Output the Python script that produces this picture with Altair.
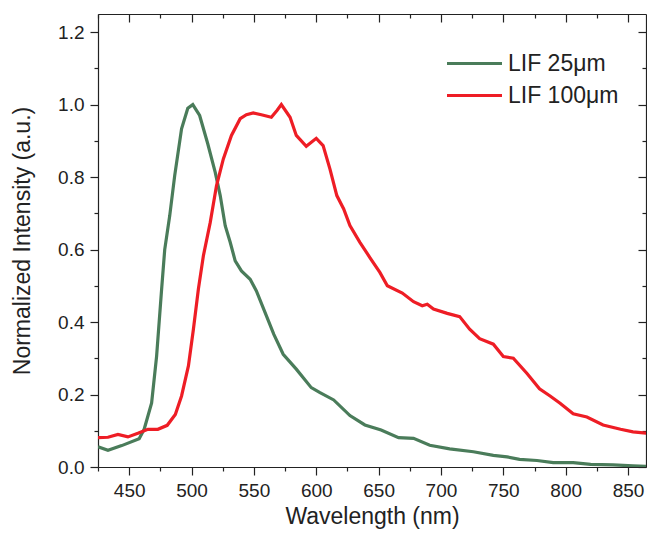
import altair as alt
import pandas as pd

# ---- data ----
green_wl = [425, 433, 444, 458, 462, 468, 472, 476, 478.5, 482.5, 486.5, 492, 497, 501,
            506.5, 513, 519, 523, 527, 531, 535, 540, 547, 552, 559, 566, 573.5, 584, 596,
            603, 614, 627, 639, 652, 666, 678, 691, 707, 726, 742, 753, 763, 777, 790, 806,
            820, 838, 854, 870]
green_val = [0.056, 0.046, 0.059, 0.078, 0.104, 0.177, 0.306, 0.49, 0.60, 0.693, 0.804, 0.933,
             0.99, 1.0, 0.97, 0.892, 0.813, 0.749, 0.666, 0.62, 0.569, 0.541, 0.518, 0.486,
             0.426, 0.366, 0.311, 0.27, 0.219, 0.205, 0.185, 0.142, 0.116, 0.102, 0.081, 0.079,
             0.060, 0.050, 0.042, 0.032, 0.028, 0.021, 0.018, 0.012, 0.012, 0.007, 0.006, 0.003,
             0.001]
red_wl = [425, 433, 441, 449, 457, 465, 473, 480.5, 487, 492, 497.5, 501.5, 505.5, 509.5, 515,
          520, 525.5, 532, 539, 544, 549.5, 556, 564, 568.5, 572, 579, 584, 592, 600, 605.5,
          611, 616.5, 622, 627, 635, 643, 651, 657, 669, 678, 685, 689, 694, 705, 715, 723,
          731, 742, 750, 758, 769, 779, 787.5, 795.5, 806, 817, 830, 844, 854, 865, 871]
red_val = [0.081, 0.082, 0.09, 0.083, 0.093, 0.104, 0.104, 0.115, 0.145, 0.196, 0.279, 0.38,
           0.491, 0.583, 0.675, 0.776, 0.85, 0.915, 0.961, 0.972, 0.977, 0.972, 0.965, 0.984,
           1.0, 0.965, 0.915, 0.885, 0.907, 0.887, 0.822, 0.749, 0.712, 0.666, 0.62, 0.578,
           0.537, 0.50, 0.48, 0.456, 0.445, 0.449, 0.436, 0.424, 0.415, 0.38, 0.354, 0.339,
           0.305, 0.30, 0.258, 0.216, 0.196, 0.176, 0.147, 0.138, 0.116, 0.104, 0.097, 0.093,
           0.088]

series_names = ["LIF 25μm", "LIF 100μm"]
series_colors = ["#4a7c5a", "#ee1d25"]

x_major = [450, 500, 550, 600, 650, 700, 750, 800, 850]
x_minor = [425, 475, 525, 575, 625, 675, 725, 775, 825]
y_major = [0.0, 0.2, 0.4, 0.6, 0.8, 1.0, 1.2]
y_minor = [0.1, 0.3, 0.5, 0.7, 0.9, 1.1]

df = pd.concat([
    pd.DataFrame({"wl": green_wl, "val": green_val, "series": series_names[0]}),
    pd.DataFrame({"wl": red_wl, "val": red_val, "series": series_names[1]}),
])

W, H = 548, 453
FONT = "Liberation Sans"

xscale = alt.Scale(domain=[425, 864.4], nice=False, zero=False)
yscale = alt.Scale(domain=[0, 1.25], nice=False, zero=False)

base = alt.Chart(df)

lines = base.mark_line(strokeWidth=3.2, clip=True).encode(
    x=alt.X("wl:Q", scale=xscale,
            axis=alt.Axis(values=x_major, format="d", title="Wavelength (nm)",
                          orient="bottom", tickSize=8, labelPadding=6, titlePadding=5,
                          labelFontSize=19, titleFontSize=23, grid=False)),
    y=alt.Y("val:Q", scale=yscale,
            axis=alt.Axis(values=y_major, format=".1f", title="Normalized Intensity (a.u.)",
                          orient="left", tickSize=8, labelPadding=6, titlePadding=23,
                          labelFontSize=19, titleFontSize=23, grid=False)),
    color=alt.Color("series:N",
                    scale=alt.Scale(domain=series_names, range=series_colors),
                    legend=alt.Legend(title=None, orient="none", legendX=365, legendY=38,
                                      symbolType="M-3,0H3", symbolSize=336,
                                      symbolStrokeWidth=3.2, labelFontSize=23,
                                      labelFont=FONT, labelOffset=22, rowPadding=8,
                                      labelColor="#222222")),
)

minor_bl = base.mark_line(opacity=0).encode(
    x=alt.X("wl:Q", scale=xscale,
            axis=alt.Axis(values=x_minor, labels=False, title=None, orient="bottom",
                          tickSize=4, domain=False, grid=False)),
    y=alt.Y("val:Q", scale=yscale,
            axis=alt.Axis(values=y_minor, labels=False, title=None, orient="left",
                          tickSize=4, domain=False, grid=False)),
    detail="series:N",
)

major_tr = base.mark_line(opacity=0).encode(
    x=alt.X("wl:Q", scale=xscale,
            axis=alt.Axis(values=x_major, labels=False, title=None, orient="bottom",
                          offset=-H, tickSize=8, grid=False)),
    y=alt.Y("val:Q", scale=yscale,
            axis=alt.Axis(values=y_major, labels=False, title=None, orient="left",
                          offset=-W, tickSize=8, grid=False)),
    detail="series:N",
)

minor_tr = base.mark_line(opacity=0).encode(
    x=alt.X("wl:Q", scale=xscale,
            axis=alt.Axis(values=x_minor, labels=False, title=None, orient="bottom",
                          offset=-H, tickSize=4, domain=False, grid=False)),
    y=alt.Y("val:Q", scale=yscale,
            axis=alt.Axis(values=y_minor, labels=False, title=None, orient="left",
                          offset=-W, tickSize=4, domain=False, grid=False)),
    detail="series:N",
)

chart = alt.layer(lines, minor_bl, major_tr, minor_tr).resolve_axis(
    x="independent", y="independent"
).properties(
    width=W, height=H,
    autosize=alt.AutoSizeParams(type="none"),
    padding={"left": 90, "top": 6, "right": 1, "bottom": 62},
    background="white",
).configure_view(
    strokeWidth=0
).configure_axis(
    labelFont=FONT, titleFont=FONT, labelColor="#222222", titleColor="#222222",
    domainColor="#222222", tickColor="#222222", domainWidth=1.2, tickWidth=1.2,
    titleFontWeight="normal",
)

chart.save("out.html", embed_options={"renderer": "svg", "actions": False})
